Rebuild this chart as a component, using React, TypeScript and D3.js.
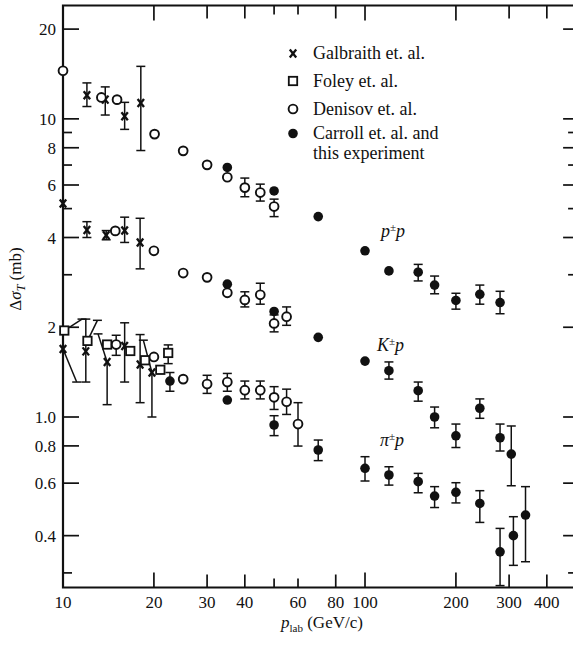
import React from "react";
import * as d3 from "d3";

// ---------- data (p_lab in GeV/c, Δσ_T in mb) : [p, value, errLo, errHi] ----------
type Pt = [number, number, number?, number?];

const ppDenisov: Pt[] = [[10, 14.5], [13.4, 11.8], [15.1, 11.6], [20.1, 8.89], [25, 7.81], [30, 7.01], [35, 6.37], [40, 5.88, 5.48, 6.33], [45, 5.66, 5.3, 6.04], [50, 5.08, 4.7, 5.38]];
const ppGalbraith: Pt[] = [[12.0, 12.0, 11.0, 13.2], [13.8, 11.6, 10.3, 12.8], [16.0, 10.2, 9.22, 11.36], [18.1, 11.3, 7.83, 15.0]];
const ppCarroll: Pt[] = [[35, 6.87], [50, 5.73], [70, 4.7], [100, 3.61], [120, 3.09], [150, 3.06, 2.86, 3.25], [170, 2.77, 2.59, 2.97], [200, 2.46, 2.3, 2.6], [240, 2.58, 2.39, 2.77], [280, 2.42, 2.22, 2.64]];

const kpGalbraith: Pt[] = [[10, 5.2], [12.0, 4.24, 4.0, 4.52], [13.9, 4.07, 3.93, 4.22], [16.0, 4.22, 3.85, 4.68], [18.0, 3.85, 3.14, 4.64]];
const kpDenisov: Pt[] = [[14.9, 4.21], [20, 3.61], [25, 3.04], [30, 2.94], [35, 2.61], [40, 2.47, 2.34, 2.63], [45, 2.57, 2.39, 2.81], [50, 2.06, 1.93, 2.2], [55, 2.17, 2.03, 2.34]];
const kpCarroll: Pt[] = [[35, 2.79], [50, 2.26], [70, 1.85], [100, 1.54], [120, 1.43, 1.34, 1.53], [150, 1.225, 1.13, 1.31], [170, 1.0, 0.92, 1.08], [200, 0.865, 0.79, 0.947], [240, 1.07, 0.99, 1.15], [280, 0.852, 0.769, 0.947], [305, 0.751, 0.588, 0.933]];

const pipFoley: Pt[] = [[10.1, 1.95], [12.05, 1.8], [14, 1.75], [16.7, 1.665], [18.7, 1.55], [21, 1.44], [22.3, 1.64, 1.51, 1.745]];
const pipGalbraith: Pt[] = [[10, 1.69], [11.9, 1.66, 1.31, 2.13], [14, 1.53, 1.1], [16, 1.73, 1.31, 2.07], [18, 1.5, 1.117, 1.89], [19.7, 1.41, 1.0]];
const pipDenisov: Pt[] = [[15, 1.75, 1.61, 1.88], [20, 1.59], [25, 1.34], [30, 1.29, 1.2, 1.38], [35, 1.31, 1.22, 1.4], [40, 1.23, 1.15, 1.32], [45, 1.23, 1.15, 1.32], [50, 1.164, 1.06, 1.264], [55, 1.125, 1.02, 1.24], [60, 0.947, 0.799, 1.117]];
const pipCarroll: Pt[] = [[22.6, 1.32, 1.22, 1.41], [35, 1.14], [50, 0.94, 0.866, 1.01], [70, 0.775, 0.714, 0.837], [100, 0.673, 0.61, 0.736], [120, 0.639, 0.591, 0.681], [150, 0.607, 0.557, 0.647], [170, 0.543, 0.497, 0.584], [200, 0.559, 0.515, 0.602], [240, 0.513, 0.443, 0.566], [280, 0.353, 0.272, 0.423], [310, 0.4, 0.318, 0.463], [340, 0.469, 0.327, 0.584]];

// slanted error bars for crowded low-momentum points: [p, value, endP, endValue]
const pipLeaders: [number, number, number, number][] = [[10.1, 1.95, 11.56, 2.13], [12.05, 1.8, 13.0, 2.11], [10, 1.69, 11.1, 1.31], [14, 1.53, 13.06, 1.9], [19.7, 1.41, 18.45, 1.81]];

const xTicks = [20, 30, 40, 50, 60, 80, 100, 200, 300, 400];
const xLabels = [10, 20, 30, 40, 60, 80, 100, 200, 300, 400];
const yMajor = [0.4, 0.6, 0.8, 1, 2, 4, 6, 8, 10, 20];
const yMinor = [0.3, 3, 5, 7, 9];
const yLabelText = ["0.4", "0.6", "0.8", "1.0", "2", "4", "6", "8", "10", "20"];

const legendItems = [
  { kind: "x", lines: ["Galbraith et. al."] },
  { kind: "sq", lines: ["Foley et. al."] },
  { kind: "o", lines: ["Denisov et. al."] },
  { kind: "f", lines: ["Carroll et. al. and", "this experiment"] },
];

const FONT = "'Liberation Serif', 'Times New Roman', serif";

const x = d3.scaleLog().domain([10, 500]).range([63, 576.1]);
const y = d3.scaleLog().domain([0.268, 24]).range([587.5, 5.5]);

function Marker({ kind, cx, cy }: { kind: string; cx: number; cy: number }) {
  if (kind === "o") return <circle cx={cx} cy={cy} r={4.4} fill="#fff" stroke="#111" strokeWidth={1.9} />;
  if (kind === "f") return <circle cx={cx} cy={cy} r={4.8} fill="#111" />;
  if (kind === "sq") return <rect x={cx - 4.2} y={cy - 4.2} width={8.4} height={8.4} fill="#fff" stroke="#111" strokeWidth={1.8} />;
  const s = 3.2;
  return (
    <g stroke="#111" strokeWidth={2.3} strokeLinecap="butt">
      <line x1={cx - s} y1={cy - s - 0.8} x2={cx + s} y2={cy + s + 0.8} />
      <line x1={cx + s} y1={cy - s - 0.8} x2={cx - s} y2={cy + s + 0.8} />
    </g>
  );
}

function Series({ data, kind }: { data: Pt[]; kind: string }) {
  const cap = 4.5;
  return (
    <g>
      {data.map((d, i) => {
        const cx = x(d[0]);
        const cy = y(d[1]);
        const lo = d[2] != null ? y(d[2] as number) : null;
        const hi = d[3] != null ? y(d[3] as number) : null;
        return (
          <g key={i} stroke="#111" strokeWidth={1.5}>
            {lo != null && <line x1={cx} x2={cx} y1={cy} y2={lo} />}
            {lo != null && <line x1={cx - cap} x2={cx + cap} y1={lo} y2={lo} />}
            {hi != null && <line x1={cx} x2={cx} y1={cy} y2={hi} />}
            {hi != null && <line x1={cx - cap} x2={cx + cap} y1={hi} y2={hi} />}
          </g>
        );
      })}
      {data.map((d, i) => (
        <Marker key={"m" + i} kind={kind} cx={x(d[0])} cy={y(d[1])} />
      ))}
    </g>
  );
}

export default function App() {
  const x0 = x.range()[0];
  const x1 = x.range()[1];
  const yb = y.range()[0];
  const yt = y.range()[1];
  const legendX = 293;
  const legendTextX = 313;
  const legendRows = [53.5, 81, 109, 133.5];
  return (
    <svg width={573} height={645} style={{ position: "absolute", left: 0, top: 0, background: "#fff" }} fontFamily={FONT}>
      <rect x={0} y={0} width={573} height={645} fill="#fff" />
      {/* frame: left, top, bottom (right edge lies outside the picture) */}
      <path d={`M${x1 + 2},${yt}H${x0}V${yb}H${x1 + 2}`} fill="none" stroke="#111" strokeWidth={2.2} />
      {/* x ticks bottom/top */}
      {xTicks.map((t) => {
        const len = t === 50 || t === 60 ? 9 : t === 20 || t === 100 || t === 200 ? 15 : 13;
        return (
          <g key={"xt" + t} stroke="#111" strokeWidth={1.7}>
            <line x1={x(t)} x2={x(t)} y1={yb} y2={yb - len} />
            <line x1={x(t)} x2={x(t)} y1={yt} y2={yt + len} />
          </g>
        );
      })}
      {xLabels.map((t) => (
        <text key={"xl" + t} x={x(t)} y={608} textAnchor="middle" fontSize={17} fill="#111">
          {t}
        </text>
      ))}
      {/* y ticks */}
      {yMajor.map((t) => (
        <g key={"ym" + t} stroke="#111" strokeWidth={1.7}>
          <line x1={x0} x2={x0 + 16} y1={y(t)} y2={y(t)} />
          <line x1={x1} x2={x1 - 13} y1={y(t)} y2={y(t)} />
        </g>
      ))}
      {yMinor.map((t) => (
        <g key={"yn" + t} stroke="#111" strokeWidth={1.7}>
          <line x1={x0} x2={x0 + 9} y1={y(t)} y2={y(t)} />
          <line x1={x1} x2={x1 - 8} y1={y(t)} y2={y(t)} />
        </g>
      ))}
      {yMajor.map((t, i) => (
        <text key={"yl" + t} x={x0 - 7} y={y(t)} dy="0.36em" textAnchor="end" fontSize={17} fill="#111">
          {yLabelText[i]}
        </text>
      ))}
      {/* axis titles */}
      <text transform="translate(21,279) rotate(-90)" textAnchor="middle" fontSize={17} fill="#111">
        Δ<tspan fontStyle="italic">σ</tspan>
        <tspan fontStyle="italic" fontSize={12} dy={4}>T</tspan>
        <tspan dy={-4}> (mb)</tspan>
      </text>
      <text x={281} y={628} fontSize={17} fill="#111">
        <tspan fontStyle="italic">p</tspan>
        <tspan fontSize={11} dy={4}>lab</tspan>
        <tspan dy={-4}> (GeV/c)</tspan>
      </text>
      {/* leaders (slanted error bars) */}
      {pipLeaders.map((d, i) => (
        <g key={"ld" + i} stroke="#111" strokeWidth={1.5}>
          <line x1={x(d[0])} y1={y(d[1])} x2={x(d[2])} y2={y(d[3])} />
          <line x1={x(d[2]) - 4.5} x2={x(d[2]) + 4.5} y1={y(d[3])} y2={y(d[3])} />
        </g>
      ))}
      {/* series */}
      <Series data={ppGalbraith} kind="x" />
      <Series data={ppDenisov} kind="o" />
      <Series data={ppCarroll} kind="f" />
      <Series data={kpGalbraith} kind="x" />
      <Series data={kpDenisov} kind="o" />
      <Series data={kpCarroll} kind="f" />
      <Series data={pipGalbraith} kind="x" />
      <Series data={pipFoley} kind="sq" />
      <Series data={pipDenisov} kind="o" />
      <Series data={pipCarroll} kind="f" />
      {/* curve labels */}
      <text x={381} y={237} fontSize={18} fontStyle="italic" fill="#111">
        p<tspan fontSize={11} dy={-6}>±</tspan><tspan dy={6}>p</tspan>
      </text>
      <text x={377} y={351} fontSize={18} fontStyle="italic" fill="#111">
        K<tspan fontSize={11} dy={-6}>±</tspan><tspan dy={6}>p</tspan>
      </text>
      <text x={380} y={446} fontSize={18} fontStyle="italic" fill="#111">
        π<tspan fontSize={11} dy={-6}>±</tspan><tspan dy={6}>p</tspan>
      </text>
      {/* legend */}
      {legendItems.map((it, i) => (
        <g key={"lg" + i}>
          <Marker kind={it.kind} cx={legendX} cy={legendRows[i]} />
          {it.lines.map((ln, j) => (
            <text key={j} x={legendTextX} y={legendRows[i] + 5.5 + j * 20} fontSize={18} fill="#111">
              {ln}
            </text>
          ))}
        </g>
      ))}
    </svg>
  );
}
